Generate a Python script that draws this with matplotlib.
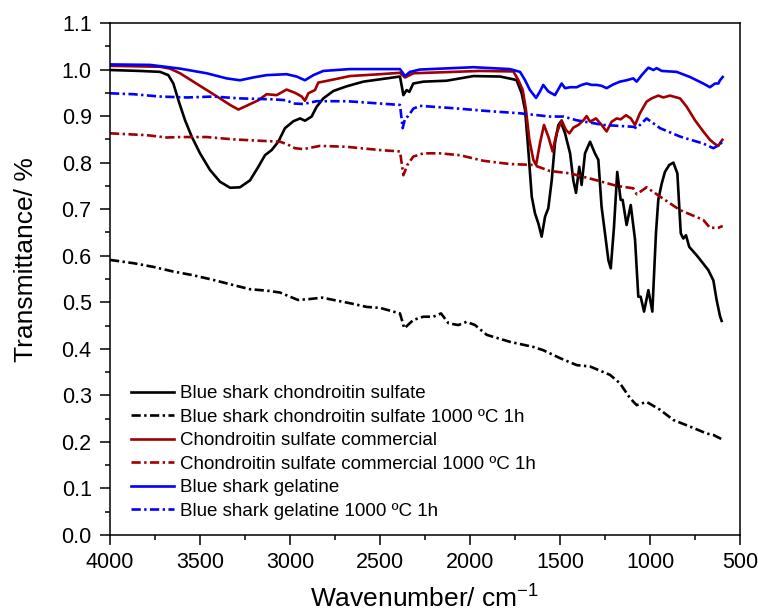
import matplotlib
matplotlib.use("Agg")
import matplotlib.pyplot as plt

plt.rcParams['font.family'] = ['Liberation Sans', 'DejaVu Sans']
plt.rcParams['mathtext.default'] = 'regular'

# Blue shark chondroitin sulfate
cs_wn = [4000, 3833, 3722, 3676, 3648, 3620, 3583, 3546, 3500, 3444, 3389, 3333, 3278,
         3222, 3176, 3139, 3102, 3065, 3028, 2981, 2944, 2917, 2880, 2852, 2815, 2759,
         2685, 2593, 2500, 2389, 2370, 2352, 2337, 2315, 2259, 2130, 1981, 1833, 1759,
         1741, 1713, 1694, 1676, 1657, 1639, 1620, 1602, 1583, 1565, 1546, 1528, 1509,
         1496, 1472, 1444, 1426, 1411, 1393, 1380, 1361, 1333, 1306, 1287, 1269, 1250,
         1231, 1218, 1200, 1182, 1163, 1152, 1130, 1107, 1083, 1065, 1052, 1033, 1009,
         987, 967, 954, 935, 917, 893, 870, 848, 829, 815, 800, 782, 741, 704, 676, 648,
         630, 611, 602]
cs_t = [0.999, 0.997, 0.995, 0.988, 0.970, 0.934, 0.891, 0.856, 0.820, 0.784, 0.759,
        0.746, 0.747, 0.762, 0.791, 0.816, 0.827, 0.845, 0.874, 0.889, 0.895, 0.890,
        0.899, 0.920, 0.938, 0.954, 0.964, 0.974, 0.979, 0.985, 0.945, 0.956, 0.952,
        0.970, 0.974, 0.976, 0.986, 0.985, 0.979, 0.977, 0.949, 0.913, 0.827, 0.727,
        0.691, 0.669, 0.641, 0.684, 0.702, 0.762, 0.842, 0.881, 0.888, 0.863, 0.820,
        0.762, 0.735, 0.791, 0.752, 0.820, 0.845, 0.820, 0.806, 0.705, 0.648, 0.590,
        0.573, 0.662, 0.780, 0.720, 0.720, 0.666, 0.709, 0.634, 0.512, 0.512, 0.480,
        0.526, 0.480, 0.648, 0.720, 0.755, 0.780, 0.795, 0.800, 0.777, 0.648, 0.637,
        0.644, 0.619, 0.601, 0.583, 0.569, 0.547, 0.505, 0.470, 0.460]

# Blue shark chondroitin sulfate 1000 ºC 1h
cs_hot_wn = [4000, 3870, 3759, 3648, 3537, 3426, 3315, 3222, 3130, 3056, 3000, 2956, 2889,
             2822, 2759, 2667, 2574, 2500, 2389, 2365, 2315, 2259, 2204, 2161, 2120, 2065,
             2019, 1972, 1907, 1778, 1648, 1593, 1500, 1407, 1333, 1222, 1167, 1111, 1074,
             1019, 944, 870, 778, 685, 648, 602]
cs_hot_t = [0.591, 0.584, 0.576, 0.566, 0.558, 0.548, 0.537, 0.528, 0.525, 0.521, 0.512,
            0.505, 0.507, 0.510, 0.505, 0.498, 0.490, 0.488, 0.476, 0.444, 0.462, 0.469,
            0.469, 0.476, 0.455, 0.451, 0.458, 0.451, 0.430, 0.415, 0.404, 0.397, 0.380,
            0.365, 0.362, 0.344, 0.326, 0.294, 0.279, 0.286, 0.269, 0.247, 0.233, 0.218,
            0.215, 0.206]

# Chondroitin sulfate commercial
com_wn = [4000, 3722, 3667, 3611, 3537, 3463, 3389, 3333, 3287, 3231, 3176, 3130, 3074,
          3019, 2972, 2935, 2917, 2898, 2861, 2843, 2778, 2667, 2500, 2389, 2361, 2315,
          1944, 1778, 1759, 1731, 1707, 1689, 1670, 1648, 1633, 1611, 1589, 1565, 1541,
          1519, 1491, 1467, 1448, 1426, 1398, 1370, 1352, 1333, 1300, 1269, 1241, 1213,
          1185, 1163, 1133, 1107, 1083, 1056, 1019, 991, 954, 926, 889, 833, 796, 750,
          704, 667, 639, 620, 611, 598]
com_t = [1.008, 1.006, 1.002, 0.992, 0.974, 0.956, 0.938, 0.924, 0.914, 0.924, 0.934,
         0.947, 0.945, 0.957, 0.950, 0.942, 0.933, 0.949, 0.956, 0.972, 0.977, 0.986,
         0.990, 0.993, 0.983, 0.992, 0.997, 0.996, 0.996, 0.977, 0.956, 0.913, 0.849,
         0.806, 0.795, 0.842, 0.881, 0.856, 0.824, 0.863, 0.891, 0.870, 0.863, 0.875,
         0.881, 0.891, 0.900, 0.888, 0.895, 0.881, 0.867, 0.888, 0.895, 0.893, 0.902,
         0.895, 0.881, 0.906, 0.931, 0.938, 0.944, 0.940, 0.944, 0.938, 0.920, 0.891,
         0.867, 0.849, 0.840, 0.836, 0.842, 0.849]

# Chondroitin sulfate commercial 1000 ºC 1h
com_hot_wn = [4000, 3796, 3685, 3611, 3463, 3315, 3167, 3056, 3019, 2972, 2926, 2833, 2685,
              2500, 2389, 2370, 2348, 2315, 2259, 2167, 2056, 1926, 1778, 1648, 1556, 1444,
              1296, 1185, 1093, 1074, 1019, 944, 833, 704, 667, 620, 596]
com_hot_t = [0.863, 0.859, 0.854, 0.855, 0.855, 0.850, 0.847, 0.845, 0.840, 0.831, 0.829,
             0.836, 0.834, 0.827, 0.824, 0.773, 0.795, 0.813, 0.820, 0.820, 0.816, 0.804,
             0.797, 0.795, 0.782, 0.777, 0.762, 0.750, 0.745, 0.732, 0.747, 0.727, 0.698,
             0.677, 0.660, 0.660, 0.664]

# Blue shark gelatine
gel_wn = [4000, 3778, 3611, 3463, 3352, 3278, 3204, 3130, 3019, 2963, 2917, 2870, 2815,
          2667, 2500, 2389, 2361, 2333, 2278, 1981, 1778, 1722, 1694, 1667, 1633, 1611,
          1593, 1565, 1528, 1491, 1472, 1444, 1407, 1380, 1352, 1324, 1296, 1269, 1241,
          1204, 1167, 1130, 1093, 1074, 1046, 1009, 981, 963, 935, 852, 778, 704, 667,
          639, 620, 611, 596]
gel_t = [1.011, 1.010, 1.002, 0.992, 0.981, 0.977, 0.983, 0.988, 0.990, 0.985, 0.977,
         0.988, 0.997, 1.001, 1.001, 1.001, 0.986, 0.995, 1.000, 1.005, 1.001, 0.995,
         0.977, 0.956, 0.939, 0.953, 0.967, 0.953, 0.945, 0.970, 0.960, 0.962, 0.962,
         0.967, 0.970, 0.967, 0.967, 0.965, 0.960, 0.968, 0.974, 0.977, 0.981, 0.974,
         0.988, 1.004, 0.999, 1.003, 0.997, 0.995, 0.984, 0.970, 0.962, 0.970, 0.970,
         0.977, 0.984]

# Blue shark gelatine 1000 ºC 1h
gel_hot_wn = [4000, 3870, 3722, 3574, 3426, 3278, 3093, 3019, 2981, 2926, 2852, 2685, 2500,
              2389, 2374, 2361, 2343, 2315, 2278, 2093, 1907, 1722, 1556, 1481, 1407, 1259,
              1093, 1074, 1019, 944, 833, 704, 648, 620, 596]
gel_hot_t = [0.949, 0.947, 0.942, 0.940, 0.942, 0.938, 0.936, 0.934, 0.927, 0.926, 0.932,
             0.932, 0.927, 0.924, 0.874, 0.895, 0.900, 0.916, 0.922, 0.917, 0.911, 0.906,
             0.899, 0.899, 0.891, 0.881, 0.877, 0.874, 0.895, 0.874, 0.856, 0.841, 0.831,
             0.837, 0.845]

labels = ['Blue shark chondroitin sulfate',
          'Blue shark chondroitin sulfate 1000 \u00baC 1h',
          'Chondroitin sulfate commercial',
          'Chondroitin sulfate commercial 1000 \u00baC 1h',
          'Blue shark gelatine',
          'Blue shark gelatine 1000 \u00baC 1h']

wine = '#A00000'
dashdot = (0, (3.5, 1.3, 0.9, 1.3))
lw = 1.9

fig = plt.figure(figsize=(7.58, 6.15), dpi=100)
ax = fig.add_axes([110 / 758, 80 / 615, 630 / 758, 512 / 615])

ax.plot(cs_wn, cs_t, color='black', lw=lw, label=labels[0])
ax.plot(cs_hot_wn, cs_hot_t, color='black', lw=lw, ls=dashdot, label=labels[1])
ax.plot(com_wn, com_t, color=wine, lw=lw, label=labels[2])
ax.plot(com_hot_wn, com_hot_t, color=wine, lw=lw, ls=dashdot, label=labels[3])
ax.plot(gel_wn, gel_t, color='#0000FF', lw=lw, label=labels[4])
ax.plot(gel_hot_wn, gel_hot_t, color='#0000FF', lw=lw, ls=dashdot, label=labels[5])

ax.set_xlim(4000, 500)
ax.set_ylim(0, 1.1)
ax.set_xticks(range(4000, 499, -500))
ax.set_xticks(range(3750, 500, -500), minor=True)
ax.set_yticks([i / 10 for i in range(12)])
ax.set_yticks([i / 20 for i in range(1, 22, 2)], minor=True)
ax.yaxis.set_major_formatter(matplotlib.ticker.FormatStrFormatter('%.1f'))

for s in ax.spines.values():
    s.set_linewidth(1.1)
ax.tick_params(which='major', direction='out', length=7.2, width=1.1, labelsize=15.5, pad=5)
ax.tick_params(which='minor', direction='out', length=3.6, width=1.1)
ax.tick_params(axis='y', which='major', pad=6)

ax.set_xlabel('Wavenumber/ cm$^{-1}$', fontsize=19, labelpad=9)
ax.set_ylabel('Transmittance/ %', fontsize=19)
ax.yaxis.set_label_coords(-0.115, 0.538)

ax.legend(loc='lower left', bbox_to_anchor=(0.033, 0.03), frameon=False,
          fontsize=13.5, handlelength=2.3, handletextpad=0.35, labelspacing=0.34,
          borderpad=0, borderaxespad=0)

plt.savefig('out.png', dpi=100)
